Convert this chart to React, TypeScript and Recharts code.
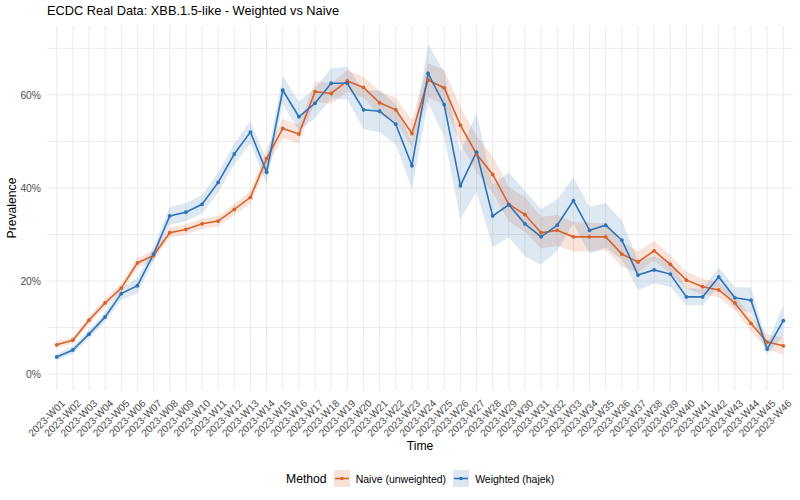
import React from 'react';
import {
  ComposedChart,
  Area,
  Line,
  XAxis,
  YAxis,
  CartesianGrid,
} from 'recharts';

const weekLabels = [
  '2023-W01', '2023-W02', '2023-W03', '2023-W04', '2023-W05', '2023-W06', '2023-W07', '2023-W08',
  '2023-W09', '2023-W10', '2023-W11', '2023-W12', '2023-W13', '2023-W14', '2023-W15', '2023-W16',
  '2023-W17', '2023-W18', '2023-W19', '2023-W20', '2023-W21', '2023-W22', '2023-W23', '2023-W24',
  '2023-W25', '2023-W26', '2023-W27', '2023-W28', '2023-W29', '2023-W30', '2023-W31', '2023-W32',
  '2023-W33', '2023-W34', '2023-W35', '2023-W36', '2023-W37', '2023-W38', '2023-W39', '2023-W40',
  '2023-W41', '2023-W42', '2023-W43', '2023-W44', '2023-W45', '2023-W46',
];

// Naive (unweighted) prevalence, %
const naive = [
  6.3, 7.3, 11.6, 15.3, 18.5, 23.9, 25.5, 30.4, 31.1, 32.3,
  32.9, 35.4, 38.0, 46.3, 52.8, 51.6, 60.7, 60.3, 63.0, 61.6,
  58.3, 56.8, 51.7, 63.2, 61.5, 53.5, 47.3, 42.9, 36.5, 34.3,
  30.4, 30.9, 29.5, 29.5, 29.5, 25.8, 24.1, 26.5, 23.6, 20.2,
  18.8, 18.1, 15.3, 10.9, 6.9, 6.1,
];
const naiveLow = [
  5.6, 6.6, 10.8, 14.4, 17.5, 22.8, 24.4, 29.3, 30.0, 31.2,
  31.8, 34.2, 36.7, 44.4, 50.8, 49.6, 58.5, 58.1, 60.7, 59.3,
  55.8, 54.2, 48.8, 59.6, 57.6, 49.6, 43.4, 39.0, 32.8, 30.6,
  27.0, 27.6, 26.3, 26.4, 26.6, 23.2, 21.8, 24.4, 21.6, 18.4,
  17.1, 16.5, 13.7, 9.3, 5.2, 4.3,
];
const naiveHigh = [
  7.0, 8.0, 12.4, 16.2, 19.5, 25.0, 26.6, 31.5, 32.2, 33.4,
  34.0, 36.6, 39.3, 48.2, 54.8, 53.6, 62.9, 62.5, 65.3, 63.9,
  60.8, 59.4, 54.6, 66.8, 65.4, 57.4, 51.2, 46.8, 40.2, 38.0,
  33.8, 34.2, 32.7, 32.6, 32.4, 28.4, 26.4, 28.6, 25.6, 22.0,
  20.5, 19.7, 16.9, 12.5, 8.6, 7.9,
];

// Weighted (hajek) prevalence, %
const weighted = [
  3.7, 5.2, 8.6, 12.3, 17.3, 19.0, 25.8, 34.0, 34.8, 36.5,
  41.2, 47.3, 52.0, 43.4, 61.0, 55.3, 58.2, 62.5, 62.5, 56.8,
  56.5, 53.7, 44.8, 64.6, 57.9, 40.5, 47.7, 34.0, 36.4, 32.3,
  29.5, 32.0, 37.3, 30.9, 32.0, 28.8, 21.3, 22.4, 21.5, 16.6,
  16.6, 20.9, 16.4, 15.9, 5.4, 11.5,
];
const weightedLow = [
  3.0, 4.4, 7.7, 11.3, 16.0, 17.4, 24.3, 32.1, 32.9, 34.5,
  39.1, 45.1, 49.6, 40.8, 58.0, 52.4, 55.0, 59.2, 59.0, 52.6,
  52.0, 49.4, 39.8, 58.3, 50.9, 33.3, 39.2, 27.3, 29.4, 25.3,
  23.5, 26.5, 32.3, 25.9, 27.2, 24.6, 18.1, 19.5, 18.8, 14.8,
  14.8, 18.9, 14.1, 13.2, 4.2, 8.2,
];
const weightedHigh = [
  4.4, 6.0, 9.5, 13.3, 18.6, 20.6, 27.3, 35.9, 36.7, 38.5,
  43.3, 49.5, 54.4, 46.0, 64.0, 58.6, 61.4, 65.8, 66.0, 61.0,
  61.0, 58.0, 49.8, 70.9, 64.9, 47.7, 56.2, 40.7, 43.4, 39.3,
  35.5, 37.5, 42.3, 35.9, 36.8, 33.0, 24.5, 25.3, 24.2, 18.4,
  18.4, 22.9, 18.7, 18.6, 6.6, 14.8,
];

const yTicks = [0, 20, 40, 60];
const yGrid = [0, 10, 20, 30, 40, 50, 60, 70];

const NAIVE_COLOR = '#D9612B';
const WEIGHTED_COLOR = '#2E73B6';
const FONT = 'Arial, "Liberation Sans", Helvetica, sans-serif';

const data = weekLabels.map((label, i) => ({
  idx: i + 1,
  label,
  naive: naive[i],
  naiveBand: [naiveLow[i], naiveHigh[i]],
  weighted: weighted[i],
  weightedBand: [weightedLow[i], weightedHigh[i]],
}));

const xTicks = data.map((d) => d.idx);

const WeekTick = (props: any) => {
  const { x, y, payload } = props;
  const label = weekLabels[payload.value - 1] ?? '';
  const ax = x + 9;
  const ay = y + 14;
  return (
    <text
      x={ax}
      y={ay}
      transform={`rotate(-45 ${ax} ${ay})`}
      textAnchor="end"
      fontSize={10.2}
      fill="#4d4d4d"
      fontFamily={FONT}
    >
      {label}
    </text>
  );
};

const LegendKey = ({ color, fill }: { color: string; fill: string }) => (
  <svg width={16} height={17} style={{ display: 'block' }}>
    <rect x={0} y={0} width={16} height={17} fill={fill} />
    <line x1={1} y1={8.5} x2={15} y2={8.5} stroke={color} strokeWidth={1.6} />
    <circle cx={8} cy={8.5} r={1.8} fill={color} />
  </svg>
);

const App: React.FC = () => {
  return (
    <div
      style={{
        position: 'absolute',
        left: 0,
        top: 0,
        width: 800,
        height: 500,
        background: '#ffffff',
        fontFamily: FONT,
        overflow: 'hidden',
      }}
    >
      <div style={{ position: 'absolute', left: 47, top: 3, fontSize: 12.8, color: '#000' }}>
        ECDC Real Data: XBB.1.5-like - Weighted vs Naive
      </div>

      <ComposedChart
        width={800}
        height={500}
        data={data}
        margin={{ top: 26, right: 7, left: 7, bottom: 50 }}
      >
        <CartesianGrid
          stroke="#EBEBEB"
          strokeWidth={1}
          horizontalValues={yGrid}
          verticalValues={xTicks}
        />
        <XAxis
          dataKey="idx"
          type="number"
          domain={[0.4, 46.6]}
          ticks={xTicks}
          interval={0}
          height={60}
          axisLine={false}
          tickLine={false}
          tickSize={0}
          tickMargin={0}
          tick={<WeekTick />}
        />
        <YAxis
          type="number"
          domain={[-3.4, 74.8]}
          ticks={yTicks}
          width={40}
          axisLine={false}
          tickLine={false}
          tickSize={0}
          tickMargin={6}
          tickFormatter={(v) => `${v}%`}
          tick={{ fill: '#4d4d4d', fontSize: 10.3, fontFamily: FONT }}
          allowDataOverflow
        />
        <Area
          type="linear"
          dataKey="naiveBand"
          stroke="none"
          fill={NAIVE_COLOR}
          fillOpacity={0.17}
          isAnimationActive={false}
          activeDot={false}
        />
        <Area
          type="linear"
          dataKey="weightedBand"
          stroke="none"
          fill={WEIGHTED_COLOR}
          fillOpacity={0.16}
          isAnimationActive={false}
          activeDot={false}
        />
        <Line
          type="linear"
          dataKey="naive"
          stroke={NAIVE_COLOR}
          strokeWidth={1.6}
          dot={{ r: 1.9, fill: NAIVE_COLOR, stroke: NAIVE_COLOR, strokeWidth: 0 }}
          activeDot={false}
          isAnimationActive={false}
        />
        <Line
          type="linear"
          dataKey="weighted"
          stroke={WEIGHTED_COLOR}
          strokeWidth={1.6}
          dot={{ r: 1.9, fill: WEIGHTED_COLOR, stroke: WEIGHTED_COLOR, strokeWidth: 0 }}
          activeDot={false}
          isAnimationActive={false}
        />
      </ComposedChart>

      <div
        style={{
          position: 'absolute',
          left: 6,
          top: 208,
          transform: 'translate(-50%, -50%) rotate(-90deg)',
          transformOrigin: 'center',
          fontSize: 12.2,
          color: '#000',
          whiteSpace: 'nowrap',
          marginLeft: 6,
        }}
      >
        Prevalence
      </div>
      <div
        style={{
          position: 'absolute',
          left: 420,
          top: 439,
          transform: 'translateX(-50%)',
          fontSize: 12.2,
          color: '#000',
        }}
      >
        Time
      </div>

      <div
        style={{
          position: 'absolute',
          left: 286,
          top: 470,
          height: 17,
          display: 'flex',
          alignItems: 'center',
          whiteSpace: 'nowrap',
        }}
      >
        <span style={{ fontSize: 12.2, color: '#000', marginRight: 7 }}>Method</span>
        <LegendKey color={NAIVE_COLOR} fill="#F9E3D8" />
        <span style={{ fontSize: 10.5, color: '#000', marginLeft: 6, marginRight: 7 }}>
          Naive (unweighted)
        </span>
        <LegendKey color={WEIGHTED_COLOR} fill="#DDE7F2" />
        <span style={{ fontSize: 10.5, color: '#000', marginLeft: 6 }}>Weighted (hajek)</span>
      </div>
    </div>
  );
};

export default App;
